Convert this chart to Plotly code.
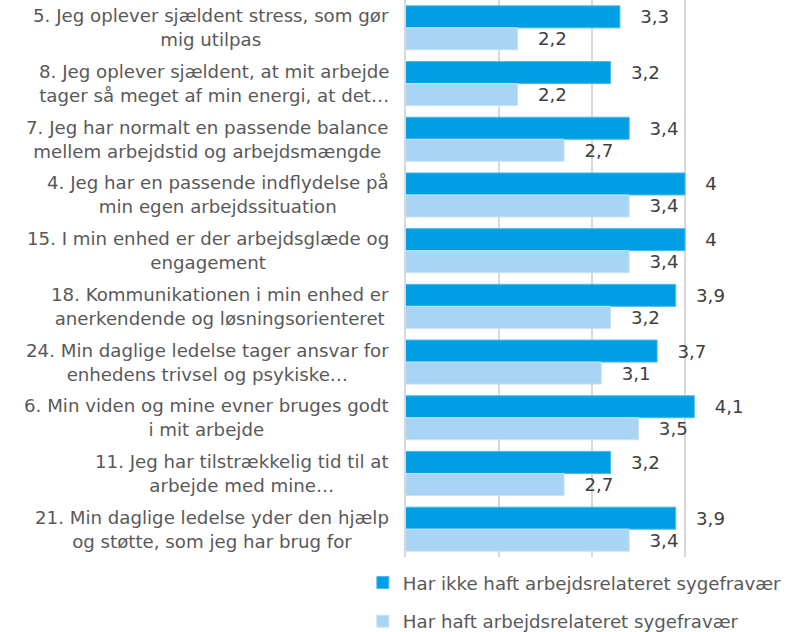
import plotly.graph_objects as go

# Survey statements (two-line wrapped labels) and mean scores per group
line1 = [
    "5. Jeg oplever sjældent stress, som gør",
    "8. Jeg oplever sjældent, at mit arbejde",
    "7. Jeg har normalt en passende balance",
    "4. Jeg har en passende indflydelse på",
    "15. I min enhed er der arbejdsglæde og",
    "18. Kommunikationen i min enhed er",
    "24. Min daglige ledelse tager ansvar for",
    "6. Min viden og mine evner bruges godt",
    "11. Jeg har tilstrækkelig tid til at",
    "21. Min daglige ledelse yder den hjælp",
]
line2 = [
    "mig utilpas",
    "tager så meget af min energi, at det…",
    "mellem arbejdstid og arbejdsmængde",
    "min egen arbejdssituation",
    "engagement",
    "anerkendende og løsningsorienteret",
    "enhedens trivsel og psykiske…",
    "i mit arbejde",
    "arbejde med mine…",
    "og støtte, som jeg har brug for",
]
categories = [f"{a} {b}" for a, b in zip(line1, line2)]

series_names = [
    "Har ikke haft arbejdsrelateret sygefravær",
    "Har haft arbejdsrelateret sygefravær",
]
no_absence = [3.3, 3.2, 3.4, 4, 4, 3.9, 3.7, 4.1, 3.2, 3.9]
absence = [2.2, 2.2, 2.7, 3.4, 3.4, 3.2, 3.1, 3.5, 2.7, 3.4]

colors = ["#009FE3", "#A9D4F4"]
edge_colors = ["#4DB8EC", "#C4E2F8"]

FONT = "DejaVu Sans"
LABEL_SIZE = 18.2
NBSP = "\u00a0"


def fmt(v):
    return NBSP * 3 + f"{v:g}".replace(".", ",")


fig = go.Figure()
for i, (name, vals) in enumerate(zip(series_names, [no_absence, absence])):
    fig.add_trace(go.Bar(
        y=categories,
        x=vals,
        base=0,
        orientation="h",
        name=name,
        legendgroup=f"g{i}",
        marker=dict(color=colors[i], line=dict(color=edge_colors[i], width=1)),
        text=[fmt(v) for v in vals],
        textposition="outside",
        textfont=dict(family=FONT, size=LABEL_SIZE, color="#404040"),
        cliponaxis=False,
        hoverinfo="skip",
    ))

# Category labels: two centred lines placed left of the plot area
for cat, a, b in zip(categories, line1, line2):
    fig.add_annotation(
        x=0, xref="paper", y=cat, yref="y",
        text=f"{a}<br>{b}", showarrow=False,
        xanchor="right", yanchor="middle", align="center",
        xshift=-15,
        font=dict(family=FONT, size=LABEL_SIZE, color="#595959"),
    )

fig.update_layout(
    width=796,
    height=632,
    margin=dict(l=406, r=18, t=0, b=75, autoexpand=False),
    paper_bgcolor="white",
    plot_bgcolor="white",
    barmode="group",
    bargap=0.21,
    bargroupgap=0,
    showlegend=True,
    legend=dict(
        orientation="v",
        x=-0.116, xanchor="left",
        y=-0.013, yanchor="top",
        font=dict(family=FONT, size=LABEL_SIZE, color="#595959"),
        tracegroupgap=12,
        bgcolor="rgba(0,0,0,0)",
    ),
    xaxis=dict(
        range=[1, 5],
        dtick=1,
        tick0=1,
        showticklabels=False,
        showgrid=True,
        gridcolor="#D9D9D9",
        gridwidth=2,
        zeroline=False,
        showline=False,
        fixedrange=True,
    ),
    yaxis=dict(
        autorange="reversed",
        showticklabels=False,
        showgrid=False,
        zeroline=False,
        showline=True,
        linecolor="#D9D9D9",
        linewidth=2,
        fixedrange=True,
    ),
)

fig.write_html("out.html")
